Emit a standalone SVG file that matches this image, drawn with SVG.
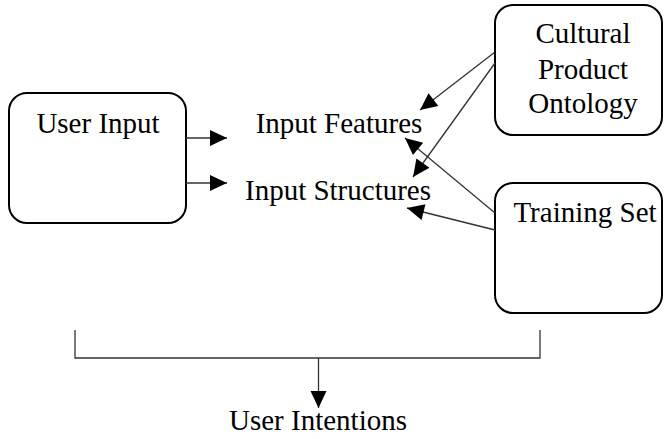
<svg xmlns="http://www.w3.org/2000/svg" width="664" height="439" viewBox="0 0 664 439">
  <style>
    .box { fill: #ffffff; stroke: #000000; stroke-width: 2; }
    .lbl { font-family: "Liberation Serif", "Times New Roman", serif; font-size: 29px; fill: #000000; text-anchor: middle; }
    .edge { stroke: #333333; stroke-width: 1.3; fill: none; }
    .arrow { marker-end: url(#head); }
  </style>
  <defs>
    <marker id="head" markerUnits="userSpaceOnUse" markerWidth="18" markerHeight="17" refX="17" refY="8" orient="auto" overflow="visible">
      <path d="M0,0 L17,8 L0,16 z" fill="#000000"/>
    </marker>
  </defs>

  <rect width="664" height="439" fill="#ffffff"/>

  <g id="user-input">
    <rect class="box" x="9" y="93" width="177" height="130" rx="18" ry="18"/>
    <text class="lbl" x="98" y="133">User Input</text>
  </g>

  <g id="cultural-product-ontology">
    <rect class="box" x="495" y="5" width="167" height="130" rx="18" ry="18"/>
    <text class="lbl" x="583" y="43">Cultural</text>
    <text class="lbl" x="583" y="79">Product</text>
    <text class="lbl" x="583" y="113">Ontology</text>
  </g>

  <g id="training-set">
    <rect class="box" x="495" y="183" width="167" height="130" rx="18" ry="18"/>
    <text class="lbl" x="585" y="222">Training Set</text>
  </g>

  <g id="input-features">
    <text class="lbl" x="339" y="133">Input Features</text>
  </g>

  <g id="input-structures">
    <text class="lbl" x="338" y="200">Input Structures</text>
  </g>

  <g id="user-intentions">
    <text class="lbl" x="318" y="430">User Intentions</text>
  </g>

  <g id="connectors">
    <line class="edge arrow" x1="186" y1="138" x2="227" y2="138"/>
    <line class="edge arrow" x1="186" y1="183" x2="227" y2="183"/>
    <line class="edge arrow" x1="495" y1="52" x2="420" y2="110"/>
    <line class="edge arrow" x1="495" y1="63" x2="413" y2="177"/>
    <line class="edge arrow" x1="495" y1="213" x2="405" y2="138"/>
    <line class="edge arrow" x1="495" y1="230" x2="407" y2="208"/>
    <path class="edge" d="M75,330 V358 H540 V330"/>
    <line class="edge arrow" x1="318.5" y1="358" x2="318.5" y2="408"/>
  </g>
</svg>
